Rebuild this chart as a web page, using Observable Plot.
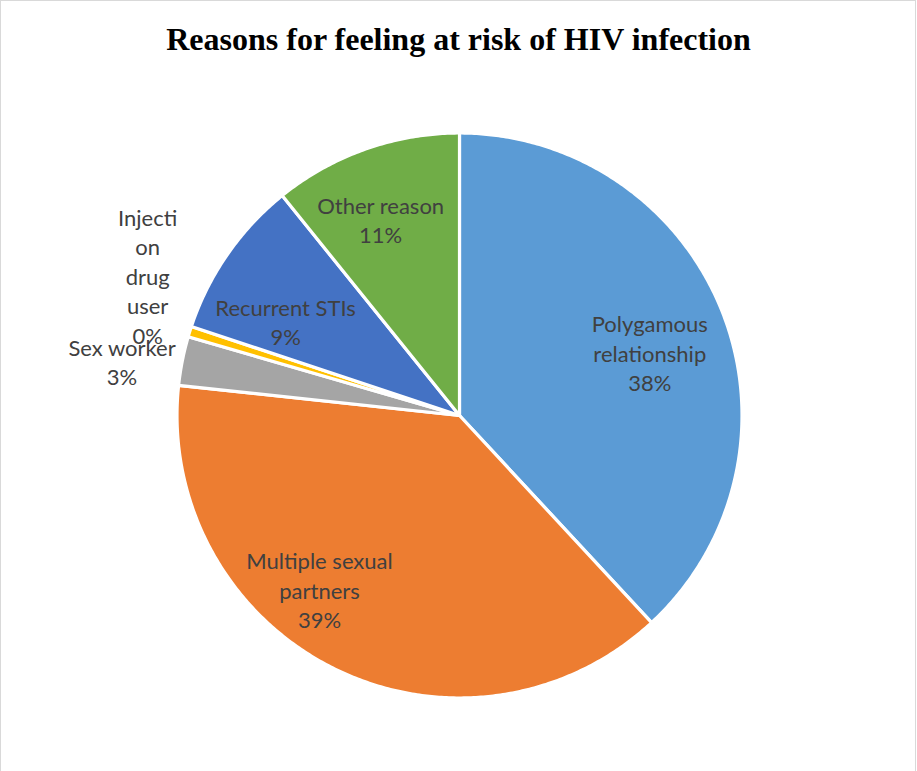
<!DOCTYPE html>
<html>
<head>
<meta charset="utf-8">
<script src="https://cdn.jsdelivr.net/npm/d3@7"></script>
<script src="https://cdn.jsdelivr.net/npm/@observablehq/plot@0.6"></script>
<style>
  html, body { margin: 0; padding: 0; background: #fff; }
  #wrap { position: relative; width: 917px; height: 771px; overflow: hidden; }
  #frame { position: absolute; left: 0; top: 0; width: 914px; height: 800px; border: 1px solid #d9d9d9; box-sizing: content-box; pointer-events: none; }
  #title { position: absolute; left: 0; width: 917px; top: 23px; text-align: center;
           font-family: "Liberation Serif", "Times New Roman", serif; font-weight: bold; font-size: 32px; line-height: 1; color: #000; }
  #chart { position: absolute; left: 0; top: 0; }
</style>
</head>
<body>
<div id="wrap">
  <div id="chart"></div>
  <div id="frame"></div>
  <div id="title">Reasons for feeling at risk of HIV infection</div>
</div>
<script>
// ---- data ----
const categories = ["Polygamous relationship", "Multiple sexual partners", "Sex worker", "Injection drug user", "Recurrent STIs", "Other reason"];
const values = [38.1, 38.6, 2.8, 0.6, 9.1, 10.8];
const percentLabels = ["38%", "39%", "3%", "0%", "9%", "11%"];
const labelTexts = ["Polygamous\nrelationship", "Multiple sexual\npartners", "Sex worker", "Injecti\non\ndrug\nuser", "Recurrent STIs", "Other reason"];
const colors = ["#5B9BD5", "#ED7D31", "#A5A5A5", "#FFC000", "#4472C4", "#70AD47"];

// ---- label layout (radius factor, angle nudge in degrees) ----
const labelLayout = {
  "Polygamous relationship": [0.71, 3],
  "Multiple sexual partners": [0.79, 12.2],
  "Sex worker": [1.21, -2],
  "Injection drug user": [1.21, 6.9],
  "Recurrent STIs": [0.70, -6.3],
  "Other reason": [0.75, -2.4]
};

const table = categories.map((c, i) => ({category: c, value: values[i], pct: percentLabels[i], label: labelTexts[i]}));
const arcs = d3.pie().sort(null).value(d => d.value).startAngle(0).endAngle(2 * Math.PI)(table);

// slice outlines in unit coordinates (angle measured clockwise from top)
const outline = [];
arcs.forEach(a => {
  const name = a.data.category;
  outline.push({category: name, x: 0, y: 0});
  const n = Math.max(2, Math.ceil((a.endAngle - a.startAngle) / (Math.PI / 360)));
  for (let k = 0; k <= n; k++) {
    const t = a.startAngle + (a.endAngle - a.startAngle) * k / n;
    outline.push({category: name, x: Math.sin(t), y: Math.cos(t)});
  }
});

const labels = arcs.map(a => {
  const [rf, nudge] = labelLayout[a.data.category];
  const mid = (a.startAngle + a.endAngle) / 2 + nudge * Math.PI / 180;
  return {category: a.data.category, x: rf * Math.sin(mid), y: rf * Math.cos(mid), text: a.data.label + "\n" + a.data.pct};
});

const cx = 459, cy = 415, R = 282.5;
const chart = Plot.plot({
  width: 917,
  height: 771,
  margin: 0,
  x: {domain: [-1, 1], range: [cx - R, cx + R], axis: null},
  y: {domain: [-1, 1], range: [cy + R, cy - R], axis: null},
  color: {domain: categories, range: colors},
  style: {background: "transparent"},
  marks: [
    Plot.line(outline, {x: "x", y: "y", z: "category", fill: "category", stroke: "#ffffff", strokeWidth: 3.2, curve: "linear-closed", strokeLinejoin: "round"}),
    Plot.text(labels, {x: "x", y: "y", text: "text", fill: "#404040", fontSize: 22, lineHeight: 1.34, lineAnchor: "middle", textAnchor: "middle", fontFamily: "Lato, 'Noto Sans', sans-serif"})
  ]
});
document.getElementById("chart").appendChild(chart);
</script>
</body>
</html>
